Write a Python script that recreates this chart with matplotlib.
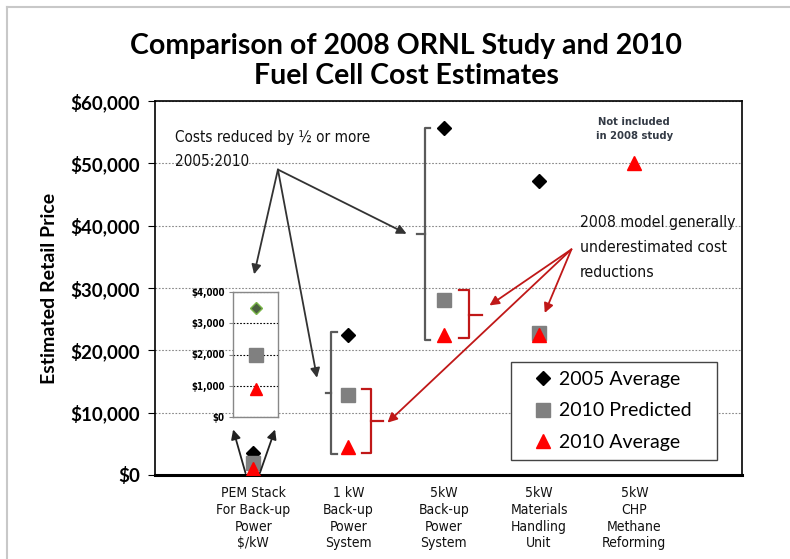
import matplotlib
matplotlib.use("Agg")
import matplotlib.pyplot as plt
from matplotlib.lines import Line2D
from matplotlib.patches import Rectangle

# ---------------- data ----------------
categories = ["PEM Stack\nFor Back-up\nPower\n$/kW",
              "1 kW\nBack-up\nPower\nSystem",
              "5kW\nBack-up\nPower\nSystem",
              "5kW\nMaterials\nHandling\nUnit",
              "5kW\nCHP\nMethane\nReforming"]
avg_2005 = [3500, 22500, 55600, 47100, None]
pred_2010 = [2000, 12900, 28000, 22800, None]
avg_2010 = [900, 4500, 22500, 22500, 50000]
pem_inset = [3500, 2000, 900]   # $/kW: 2005 avg, 2010 predicted, 2010 avg
yticks = [0, 10000, 20000, 30000, 40000, 50000, 60000]
inset_ticks = [0, 1000, 2000, 3000, 4000]

W, H = 790, 559
NARROW = ["Liberation Sans Narrow", "DejaVu Sans"]
WIDE = ["Lato", "DejaVu Sans"]
NSTRETCH = "condensed"

fig = plt.figure(figsize=(W / 100, H / 100), dpi=100)
fig.patch.set_facecolor("white")

def fx(px):
    return px / W

def fy(py):
    return 1 - py / H

# main axes
ax = fig.add_axes([fx(155), fy(475), fx(742) - fx(155), fy(101) - fy(475)])
xs = list(range(len(categories)))

def pts(vals):
    return [(i, v) for i, v in zip(xs, vals) if v is not None]

p = pts(avg_2005)
ax.plot([a for a, b in p], [b for a, b in p], ls="none", marker="D", ms=7,
        color="black", zorder=5)
p = pts(pred_2010)
ax.plot([a for a, b in p], [b for a, b in p], ls="none", marker="s", ms=10,
        color="#808080", zorder=5)
p = pts(avg_2010)
ax.plot([a for a, b in p], [b for a, b in p], ls="none", marker="^", ms=10,
        color="#ff0000", zorder=6)

ax.set_xlim(-1.03, 5.13)
ax.set_ylim(0, 60000)
ax.set_yticks(yticks)
ax.set_yticklabels(["${:,}".format(v) for v in yticks], family=WIDE,
                   fontweight="bold", fontsize=13.5)
ax.set_xticks(xs)
ax.set_xticklabels(categories, family=NARROW, stretch=NSTRETCH, fontsize=10,
                   color="#111111", linespacing=1.25)
ax.tick_params(axis="x", length=0, pad=8)
ax.tick_params(axis="y", length=5, width=0.8, direction="out", pad=6)
ax.yaxis.grid(True, linestyle=(0, (1.5, 1.5)), color="#888888", lw=0.8)
ax.set_axisbelow(True)
for s in ["top", "right", "left"]:
    ax.spines[s].set_color("black")
    ax.spines[s].set_linewidth(1.2)
ax.spines["bottom"].set_linewidth(2.2)
ax.set_ylabel("Estimated Retail Price", family=WIDE, fontweight="bold",
              fontsize=14, labelpad=9)

# ---------- brackets ----------
gray = "#5a5a5a"
red = "#c01818"

def bracket(x, y0, y1, ymid, tick, nub, color):
    ax.plot([x + tick, x, x, x + tick], [y1, y1, y0, y0], color=color, lw=1.6,
            solid_joinstyle="round", zorder=4)
    ax.plot([x, x + nub], [ymid, ymid], color=color, lw=1.6, zorder=4)

bracket(0.82, 3400, 23000, 13200, 0.06, -0.06, gray)
bracket(1.80, 21700, 55700, 38600, 0.06, -0.08, gray)
bracket(1.24, 3500, 13800, 8700, -0.10, 0.12, red)
bracket(2.26, 21900, 29600, 25600, -0.10, 0.14, red)

# ---------- arrows ----------
def arrow(x0, y0, x1, y1, color):
    ax.annotate("", xy=(x1, y1), xytext=(x0, y0),
                arrowprops=dict(arrowstyle="-|>", color=color, lw=1.3,
                                mutation_scale=14, shrinkA=0, shrinkB=0),
                zorder=7)

for (tx, ty) in [(0.01, 32200), (0.67, 15600), (1.61, 38700)]:
    arrow(0.26, 49000, tx, ty, "#333333")
arrow(-0.08, 300, -0.21, 7300, "#222222")
arrow(0.07, 300, 0.23, 7300, "#222222")
for (tx, ty) in [(2.48, 27200), (3.06, 26000), (1.41, 8400)]:
    arrow(3.34, 36200, tx, ty, red)

# ---------- annotation texts ----------
ax.text(-0.82, 52200, "Costs reduced by ½ or more\n2005:2010", family=NARROW,
        stretch=NSTRETCH, fontsize=11, color="#111111", va="center",
        ha="left", linespacing=1.8)
ax.text(3.43, 36500, "2008 model generally\nunderestimated cost\nreductions",
        family=NARROW, stretch=NSTRETCH, fontsize=11.3, color="#111111",
        va="center", ha="left", linespacing=1.8)
ax.text(4.0, 55500, "Not included\nin 2008 study", family=NARROW,
        stretch=NSTRETCH, fontsize=8, fontweight="bold", color="#333a45",
        ha="center", va="center", linespacing=1.6)

# ---------- legend ----------
handles = [Line2D([], [], ls="none", marker="D", ms=7, color="black"),
           Line2D([], [], ls="none", marker="s", ms=10, color="#808080"),
           Line2D([], [], ls="none", marker="^", ms=10, color="#ff0000")]
leg = ax.legend(handles, ["2005 Average", "2010 Predicted", "2010 Average"],
                loc="upper left", bbox_to_anchor=(fx(522), fy(361)),
                bbox_transform=fig.transFigure, frameon=False, borderpad=0,
                handlelength=1.2, handletextpad=0.2, labelspacing=0.76,
                prop={"family": WIDE, "size": 14})
ax.add_patch(Rectangle((fx(511), fy(460)), fx(717) - fx(511), fy(362) - fy(460),
                       transform=fig.transFigure, fill=True, facecolor="white",
                       edgecolor="#444444", lw=1.0, zorder=3))

# ---------- inset ----------
ins = fig.add_axes([fx(233), fy(417), fx(278) - fx(233), fy(292) - fy(417)])
ins.plot([0], [pem_inset[0]], ls="none", marker="D", ms=6,
         markerfacecolor="#4a6040", markeredgecolor="#7ab648", mew=1)
ins.plot([0], [pem_inset[1]], ls="none", marker="s", ms=10, color="#808080")
ins.plot([0], [pem_inset[2]], ls="none", marker="^", ms=9, color="#ff0000")
ins.set_xlim(-1, 1)
ins.set_ylim(0, 4000)
ins.set_xticks([])
ins.set_yticks(inset_ticks)
ins.set_yticklabels(["${:,}".format(v) for v in inset_ticks], family=NARROW,
                    stretch=NSTRETCH, fontsize=7, fontweight="bold")
ins.tick_params(axis="y", length=3, width=0.8, color="#888888", pad=3)
ins.yaxis.grid(True, linestyle=(0, (1.5, 1.5)), color="black", lw=0.8)
ins.set_axisbelow(True)
for s in ins.spines.values():
    s.set_color("#888888")
    s.set_linewidth(1.0)

# ---------- title & frame ----------
fig.text(fx(406), fy(61), "Comparison of 2008 ORNL Study and 2010\nFuel Cell Cost Estimates",
         family=WIDE, fontweight="bold", fontsize=20.5, ha="center", va="center",
         linespacing=1.22)
fig.add_artist(Line2D([fx(7), 1], [fy(7), fy(7)], color="#c8c8c8", lw=1.5))
fig.add_artist(Line2D([fx(7), fx(7)], [fy(7), 0], color="#c8c8c8", lw=1.5))

fig.savefig("out.png", dpi=100)
